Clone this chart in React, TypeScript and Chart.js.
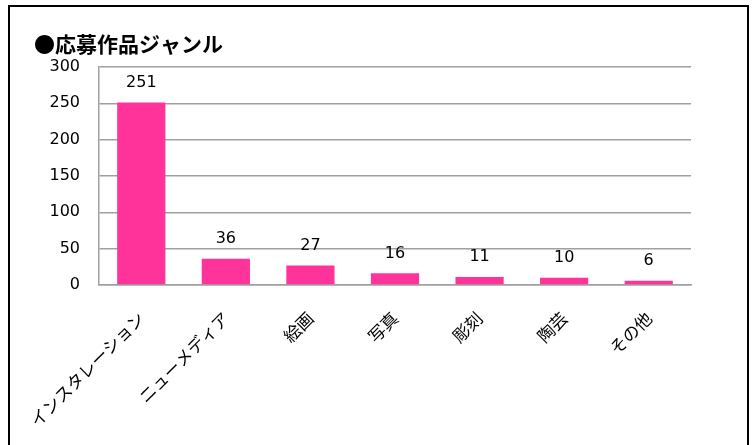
import React, { useEffect, useRef } from "react";
import { Chart, registerables } from "chart.js";

Chart.register(...registerables);

const chartTitle = "●応募作品ジャンル";
const categories = ["インスタレーション", "ニューメディア", "絵画", "写真", "彫刻", "陶芸", "その他"];
const counts = [251, 36, 27, 16, 11, 10, 6];
const yMin = 0;
const yMax = 300;
const yStep = 50;

const BAR_COLOR = "#FF3399";
const GRID_COLOR = "#a0a0a0";
const NUM_FONT = "'DejaVu Sans', 'Noto Sans CJK JP', sans-serif";
const JP_FONT = "'Noto Sans CJK JP', 'DejaVu Sans', sans-serif";

export default function App() {
  const ref = useRef<HTMLCanvasElement>(null);

  useEffect(() => {
    if (!ref.current) return;

    const valueLabels = {
      id: "valueLabels",
      afterDatasetsDraw(chart: any) {
        const ctx = chart.ctx;
        const meta = chart.getDatasetMeta(0);
        ctx.save();
        ctx.font = `16px ${NUM_FONT}`;
        ctx.fillStyle = "#000";
        ctx.textAlign = "center";
        ctx.textBaseline = "middle";
        meta.data.forEach((el: any, i: number) => {
          ctx.fillText(String(counts[i]), el.x, el.y - 20);
        });
        ctx.restore();
      },
    };

    const titleText = {
      id: "titleText",
      afterDraw(chart: any) {
        const ctx = chart.ctx;
        ctx.save();
        ctx.font = `bold 21px ${JP_FONT}`;
        ctx.fillStyle = "#000";
        ctx.textAlign = "left";
        ctx.textBaseline = "middle";
        ctx.fillText(chartTitle, 34, 44);
        ctx.restore();
      },
    };

    const chart = new Chart(ref.current, {
      type: "bar",
      data: {
        labels: categories,
        datasets: [
          {
            data: counts,
            backgroundColor: BAR_COLOR,
            borderWidth: 0,
            barPercentage: 0.57,
            categoryPercentage: 1,
          },
        ],
      },
      options: {
        responsive: false,
        animation: false,
        devicePixelRatio: 1,
        layout: { padding: { top: 67, right: 65, left: 0, bottom: 0 } },
        plugins: {
          legend: { display: false },
          tooltip: { enabled: false },
          title: { display: false },
        },
        scales: {
          x: {
            grid: { display: false },
            border: { display: true, color: GRID_COLOR, width: 1.5 },
            ticks: {
              autoSkip: false,
              minRotation: 45,
              maxRotation: 45,
              padding: 15,
              color: "#000",
              font: { family: JP_FONT, size: 17 },
            },
            afterFit(scale: any) {
              scale.height = 160;
            },
          },
          y: {
            min: yMin,
            max: yMax,
            ticks: {
              stepSize: yStep,
              padding: 19,
              color: "#000",
              font: { family: NUM_FONT, size: 16 },
            },
            grid: { color: GRID_COLOR, lineWidth: 1.5, drawTicks: false },
            border: { display: true, color: GRID_COLOR, width: 1.5 },
            afterFit(scale: any) {
              scale.width = 99;
            },
          },
        },
      },
      plugins: [valueLabels, titleText],
    });

    return () => chart.destroy();
  }, []);

  return (
    <div style={{ position: "fixed", left: 0, top: 0, width: 756, height: 445, background: "#fff" }}>
      <div
        style={{
          position: "absolute",
          left: 8,
          top: 5,
          width: 741,
          height: 470,
          border: "2px solid #000",
          boxSizing: "border-box",
        }}
      />
      <canvas ref={ref} width={756} height={445} style={{ position: "absolute", left: 0, top: 0 }} />
    </div>
  );
}
